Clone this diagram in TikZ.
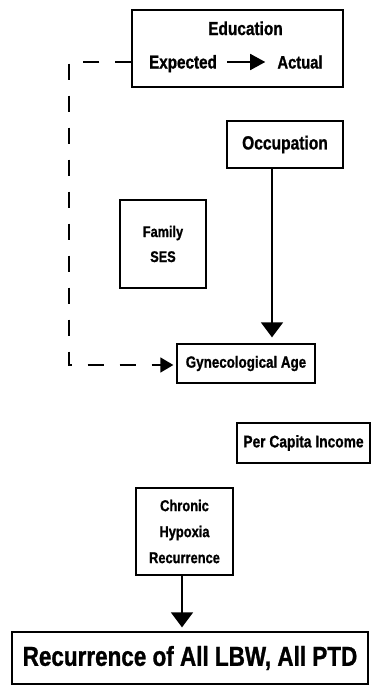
\documentclass[tikz,border=0pt]{standalone}
\usepackage{fontspec}
\newfontfamily\dfont[FakeStretch=0.82,FakeBold=1]{Liberation Sans}
\usetikzlibrary{arrows.meta}
\newcommand{\fsz}[2]{\fontsize{#1}{#2}\selectfont\dfont\bfseries}
\begin{document}
\begin{tikzpicture}[x=1pt,y=-1pt,
  box/.style={draw, line width=1.3pt, inner sep=0pt},
  txt/.style={inner sep=0pt, align=center},
  bigarrow/.style={line width=1.5pt, -{Triangle[length=15pt,width=22pt]}},
  midarrow/.style={line width=1.5pt, -{Triangle[length=15pt,width=16pt]}},
  dashline/.style={line width=1.5pt, dash pattern=on 16pt off 16pt, -{Triangle[length=13pt,width=15pt]}}
]
\useasboundingbox (0,0) rectangle (373,686);

% Education
\node[box, minimum width=211pt, minimum height=77pt] (edu) at (237.5,48.5) {};
\node[txt, anchor=base, font=\fsz{18.8}{20}] (edut) at (245.5,35) {Education};
\node[txt, anchor=base, font=\fsz{18.6}{20}] (exp) at (183,68.5) {Expected};
\node[txt, anchor=base, font=\fsz{18}{20}] (act) at (300,68.5) {Actual};
\draw[midarrow, shorten <=10pt, shorten >=12pt] (exp.east |- 0,62) -- (act.west |- 0,62);

% Occupation
\node[box, minimum width=116pt, minimum height=47pt, font=\fsz{19}{20}] (occ) at (285,144.5) {Occupation};

% Family SES
\node[box, minimum width=86pt, minimum height=88pt, align=center, font=\fsz{15.5}{25}] (fam) at (163,244) {Family\\SES};

% Gynecological Age
\node[box, minimum width=138pt, minimum height=39pt, font=\fsz{16.3}{18}] (gyn) at (246,363.5) {Gynecological Age};

% Per Capita Income
\node[box, minimum width=133pt, minimum height=40pt, font=\fsz{16.8}{18}] (pci) at (303.5,443) {Per Capita Income};

% Chronic Hypoxia Recurrence
\node[box, minimum width=97pt, minimum height=87pt, align=center, font=\fsz{15.7}{26}] (chr) at (184.5,531.5) {Chronic\\Hypoxia\\Recurrence};

% Recurrence
\node[box, minimum width=356pt, minimum height=52pt, font=\fsz{27.4}{30}] (rec) at (190,658) {Recurrence of All LBW, All PTD};

% connectors
\draw[bigarrow, shorten >=6pt] ([xshift=-13pt]occ.south) -- ([xshift=-13pt]occ.south |- gyn.north);
\draw[bigarrow, shorten >=4pt] ([xshift=-2.5pt]chr.south) -- ([xshift=-2.5pt]chr.south |- rec.north);

\coordinate (c1) at (69,62);
\coordinate (c2) at (69,365);
\draw[dashline, shorten >=3pt] (edu.west |- c1) -- (c1) -- (c2) -- (gyn.west |- c2);
\end{tikzpicture}
\end{document}
